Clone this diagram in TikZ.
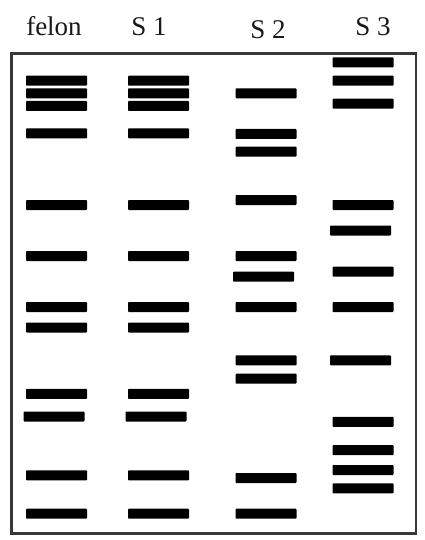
\documentclass[tikz,border=0pt]{standalone}
\usepackage{fontspec}
\setmainfont{Liberation Serif}
\begin{document}
\begin{tikzpicture}[x=1pt,y=-1pt,
  band/.style={fill=black, draw=none, inner sep=0pt, minimum height=10pt, minimum width=61pt, rounded corners=0.8pt},
  lanelabel/.style={anchor=base, inner sep=0pt, font=\fontsize{27}{27}\selectfont, text=black!90}]
\useasboundingbox (0,0) rectangle (425,540);
\fill[white] (0,0) rectangle (425,540);
% gel frame
\draw[line width=2.6pt, draw=black!78] (11.5,53.5) rectangle (416,533.5);
% lane labels
\node[lanelabel] (lf) at (54,36) {felon};
\node[lanelabel] (l1) at (149,36) {S 1};
\node[lanelabel] (l2) at (268,39) {S 2};
\node[lanelabel] (l3) at (373,36) {S 3};
% felon lane
\node[band] (f1) at (56.5,80.7) {};
\node[band] (f2) at (56.5,93.3) {};
\node[band] (f3) at (56.5,106) {};
\node[band] (f4) at (56.5,133.3) {};
\node[band] (f5) at (56.5,205) {};
\node[band] (f6) at (56.5,256) {};
\node[band] (f7) at (56.5,307) {};
\node[band] (f8) at (56.5,327.5) {};
\node[band] (f9) at (56.5,393.8) {};
\node[band] (f10) at (54,416.5) {};
\node[band] (f11) at (56.5,475.3) {};
\node[band] (f12) at (56.5,513.7) {};
% S1 lane
\node[band] (a1) at (158.5,80.7) {};
\node[band] (a2) at (158.5,93.3) {};
\node[band] (a3) at (158.5,106) {};
\node[band] (a4) at (158.5,133.3) {};
\node[band] (a5) at (158.5,205) {};
\node[band] (a6) at (158.5,256) {};
\node[band] (a7) at (158.5,307) {};
\node[band] (a8) at (158.5,327.5) {};
\node[band] (a9) at (158.5,393.8) {};
\node[band] (a10) at (156,416.5) {};
\node[band] (a11) at (158.5,475.3) {};
\node[band] (a12) at (158.5,513.7) {};
% S2 lane
\node[band] (b1) at (266,93.3) {};
\node[band] (b2) at (266,134) {};
\node[band] (b3) at (266,151.7) {};
\node[band] (b4) at (266,200) {};
\node[band] (b5) at (266,256) {};
\node[band] (b6) at (263.5,276.7) {};
\node[band] (b7) at (266,307) {};
\node[band] (b8) at (266,360.3) {};
\node[band] (b9) at (266,378.7) {};
\node[band] (b10) at (266,478) {};
\node[band] (b11) at (266,513.7) {};
% S3 lane
\node[band] (c1) at (363,62.3) {};
\node[band] (c2) at (363,80.7) {};
\node[band] (c3) at (363,103.7) {};
\node[band] (c4) at (363,205) {};
\node[band] (c5) at (360.5,230.5) {};
\node[band] (c6) at (363,271.7) {};
\node[band] (c7) at (363,307) {};
\node[band] (c8) at (360.5,360.3) {};
\node[band] (c9) at (363,421.8) {};
\node[band] (c10) at (363,450.2) {};
\node[band] (c11) at (363,470) {};
\node[band] (c12) at (363,488.4) {};
\end{tikzpicture}
\end{document}
